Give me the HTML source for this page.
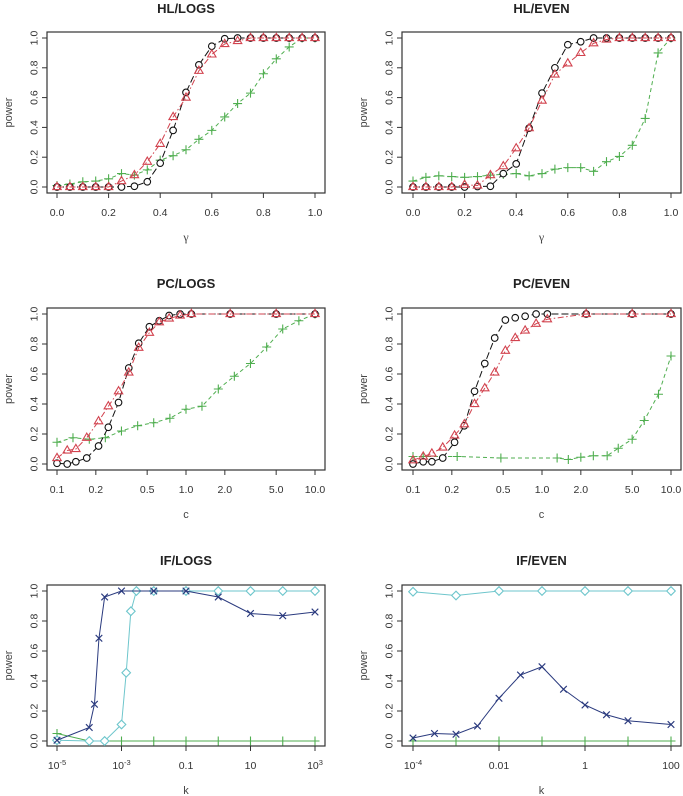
<!DOCTYPE html>
<html><head><meta charset="utf-8">
<style>
html,body{margin:0;padding:0;background:#fff;}
svg{display:block;font-family:"Liberation Sans",Arial,sans-serif;}
</style></head>
<body>
<svg id="fig" width="683" height="796" viewBox="0 0 683 796" xmlns="http://www.w3.org/2000/svg"></svg>
<script>
// ---------- data ----------
const hlX = [0,0.05,0.1,0.15,0.2,0.25,0.3,0.35,0.4,0.45,0.5,0.55,0.6,0.65,0.7,0.75,0.8,0.85,0.9,0.95,1];
const hlLogsBlack = [0,0,0,0,0,0,0.005,0.035,0.16,0.38,0.635,0.82,0.945,0.995,1,1,1,1,1,1,1];
const hlLogsRed   = [0,0,0,0,0,0.04,0.08,0.17,0.29,0.47,0.60,0.78,0.89,0.96,0.98,1,1,1,1,1,1];
const hlLogsGreen = [0.01,0.02,0.035,0.04,0.055,0.09,0.08,0.115,0.18,0.21,0.25,0.32,0.38,0.47,0.56,0.63,0.76,0.86,0.94,1,1];
const hlEvenBlack = [0,0,0,0,0,0.003,0.005,0.09,0.155,0.395,0.63,0.80,0.955,0.975,1,1,1,1,1,1,1];
const hlEvenRed   = [0,0,0,0,0.015,0.01,0.08,0.14,0.26,0.395,0.58,0.755,0.83,0.90,0.965,0.99,1,1,1,1,1];
const hlEvenGreen = [0.04,0.065,0.075,0.07,0.065,0.07,0.08,0.085,0.09,0.075,0.09,0.12,0.13,0.13,0.105,0.17,0.205,0.28,0.46,0.90,1];

const pcX = [0.1,0.12,0.14,0.17,0.21,0.25,0.30,0.36,0.43,0.52,0.62,0.74,0.90,1.10,2.2,5,10];
const pcLogsBlack = [0.005,0,0.015,0.04,0.12,0.245,0.41,0.64,0.805,0.915,0.955,0.99,1,1,1,1,1];
const pcLogsRed   = [0.04,0.09,0.10,0.175,0.285,0.385,0.485,0.61,0.775,0.875,0.945,0.97,0.99,1,1,1,1];
const pcLogsGreenX = [0.1,0.133,0.178,0.237,0.316,0.422,0.562,0.750,1,1.33,1.78,2.37,3.16,4.22,5.62,7.50,10];
const pcLogsGreen  = [0.145,0.175,0.165,0.175,0.22,0.255,0.275,0.305,0.365,0.385,0.50,0.585,0.67,0.78,0.90,0.955,1];
const pcEvenBlack = [0,0.015,0.015,0.04,0.145,0.255,0.485,0.67,0.84,0.96,0.975,0.985,1,1,1,1,1];
const pcEvenRed   = [0.025,0.05,0.07,0.11,0.19,0.265,0.40,0.505,0.61,0.755,0.84,0.89,0.935,0.965,1,1,1];
const pcEvenGreenX = [0.1,0.12,0.22,0.48,1.31,1.6,2.0,2.5,3.2,3.9,5.0,6.2,8.0,10];
const pcEvenGreen  = [0.05,0.05,0.05,0.04,0.04,0.03,0.045,0.055,0.055,0.105,0.165,0.29,0.465,0.72];

const ifLogsBlueX = [1e-5,1e-4,1.45e-4,2e-4,3e-4,1e-3,1e-2,0.1,1,10,100,1000];
const ifLogsBlue  = [0.005,0.09,0.245,0.685,0.96,1,1,1,0.96,0.85,0.835,0.86];
const ifLogsCyanX = [1e-5,1e-4,3e-4,1e-3,1.4e-3,1.95e-3,2.9e-3,1e-2,0.1,1,10,100,1000];
const ifLogsCyan  = [0.005,0,0,0.11,0.455,0.865,1,1,1,1,1,1,1];
const ifLogsGreenX = [1e-5,1e-4,1e-3,1e-2,0.1,1,10,100,1000];
const ifLogsGreen  = [0.05,0,0,0,0,0,0,0,0];

const ifEvenCyanX = [1e-4,1e-3,1e-2,0.1,1,10,100];
const ifEvenCyan  = [0.995,0.97,1,1,1,1,1];
const ifEvenBlueX = [1e-4,3.16e-4,1e-3,3.16e-3,1e-2,3.16e-2,0.1,0.316,1,3.16,10,100];
const ifEvenBlue  = [0.02,0.05,0.045,0.10,0.285,0.44,0.495,0.345,0.24,0.175,0.135,0.11];
const ifEvenGreenX = [1e-4,1e-3,1e-2,0.1,1,10,100];
const ifEvenGreen  = [0,0,0,0,0,0,0];

const yTicks = [0,0.2,0.4,0.6,0.8,1.0];
const yTickLabels = ["0.0","0.2","0.4","0.6","0.8","1.0"];
const hlTicks = [0,0.2,0.4,0.6,0.8,1.0];
const hlTickLabels = ["0.0","0.2","0.4","0.6","0.8","1.0"];
const pcTicks = [0.1,0.2,0.5,1,2,5,10];
const pcTickLabels = ["0.1","0.2","0.5","1.0","2.0","5.0","10.0"];
const ifLogsTicks = [1e-5,1e-3,0.1,10,1000];
const ifLogsTickLabels = ["10^-5","10^-3","0.1","10","10^3"];
const ifEvenTicks = [1e-4,0.01,1,100];
const ifEvenTickLabels = ["10^-4","0.01","1","100"];

// ---------- drawing ----------
const NS="http://www.w3.org/2000/svg";
const svg=document.getElementById('fig');
const COL={black:"#111",red:"#d2434f",green:"#4fae4f",blue:"#2a3a7e",cyan:"#6ec6cc"};
function mk(tag,attrs,parent){const e=document.createElementNS(NS,tag);for(const k in attrs)e.setAttribute(k,attrs[k]);(parent||svg).appendChild(e);return e;}

function panel(cfg){
  const g=mk('g',{});
  
  
  const log=cfg.log;
  const tx=v=>log?Math.log10(v):v;
  const xs=v=>cfg.px0+(tx(v)-tx(cfg.xmin))/(tx(cfg.xmax)-tx(cfg.xmin))*(cfg.px1-cfg.px0);
  const ys=v=>cfg.py0+(v)*(cfg.py1-cfg.py0);
  const box=mk('rect',{x:cfg.bx0,y:cfg.by0,width:cfg.bx1-cfg.bx0,height:cfg.by1-cfg.by0,fill:'none',stroke:'#333','stroke-width':1.2},g);
  
  
  const t=mk('text',{x:(cfg.bx0+cfg.bx1)/2,y:cfg.titleY,'text-anchor':'middle','font-size':13,'font-weight':'bold',fill:'#222'},g);
  t.textContent=cfg.title;
  
  
  yTicks.forEach((v,i)=>{
    const y=ys(v);
    mk('line',{x1:cfg.bx0,x2:cfg.bx0-5,y1:y,y2:y,stroke:'#333'},g);
    const lx=cfg.bx0-13;
    const tl=mk('text',{x:lx,y:y,'text-anchor':'middle','font-size':10.5,fill:'#333',transform:`rotate(-90 ${lx} ${y})`,dy:'0.35em'},g);
    tl.textContent=yTickLabels[i];
    
    
  });
  cfg.ticks.forEach((v,i)=>{
    const x=xs(v);
    mk('line',{x1:x,x2:x,y1:cfg.by1,y2:cfg.by1+5,stroke:'#333'},g);
    const lab=cfg.tickLabels[i];
    const tl=mk('text',{x:x,y:cfg.by1+23,'text-anchor':'middle','font-size':10.5,fill:'#333'},g);
    if(lab.indexOf('^')>=0){
      const p=lab.split('^');
      const a=mk('tspan',{},tl);a.textContent=p[0];
      const b=mk('tspan',{dy:-4,'font-size':7.5},tl);b.textContent=p[1];
    } else tl.textContent=lab;
    
    
  });
  const xl=mk('text',{x:(cfg.bx0+cfg.bx1)/2,y:cfg.by1+48,'text-anchor':'middle','font-size':cfg.xlabSerif?12:11,'font-family':cfg.xlabSerif?'"Liberation Serif",serif':'inherit',fill:'#444'},g);
  xl.textContent=cfg.xlab;
  
  
  const ylx=cfg.bx0-39, yly=(cfg.by0+cfg.by1)/2;
  const yl=mk('text',{x:ylx,y:yly,'text-anchor':'middle','font-size':11,fill:'#444',transform:`rotate(-90 ${ylx} ${yly})`,dy:'0.35em'},g);
  yl.textContent='power';
  
  
  cfg.series.forEach(s=>{
    const sg=mk('g',{},g);
    
    
    const pts=s.x.map((xv,i)=>[xs(xv),ys(s.y[i])]);
    mk('polyline',{points:pts.map(p=>p.join(',')).join(' '),fill:'none',stroke:s.col,'stroke-width':1,'stroke-dasharray':s.dash||'none'},sg);
    pts.forEach(p=>marker(sg,s.pch,p[0],p[1],s.col));
  });
}
function marker(g,pch,x,y,c){
  const w=1.1;
  if(pch==='o') mk('circle',{cx:x,cy:y,r:3.3,fill:'#fff',stroke:c,'stroke-width':w},g);
  else if(pch==='t') mk('polygon',{points:`${x},${y-4.6} ${x-4.2},${y+2.6} ${x+4.2},${y+2.6}`,fill:'none',stroke:c,'stroke-width':w},g);
  else if(pch==='+'){mk('path',{d:`M${x-4.5},${y}H${x+4.5}M${x},${y-4.5}V${y+4.5}`,stroke:c,'stroke-width':w},g);}
  else if(pch==='x'){mk('path',{d:`M${x-3.3},${y-3.3}L${x+3.3},${y+3.3}M${x-3.3},${y+3.3}L${x+3.3},${y-3.3}`,stroke:c,'stroke-width':w},g);}
  else if(pch==='d') mk('polygon',{points:`${x},${y-4.3} ${x+4.3},${y} ${x},${y+4.3} ${x-4.3},${y}`,fill:'#fff',stroke:c,'stroke-width':w},g);
}
const DB="7,3", DR="6,2.5,1.5,2.5", DG="4,3";
const L={bx0:47,bx1:325,px0:57,px1:315}, R={bx0:402,bx1:681,px0:413,px1:671};
const row1={by0:32,by1:193,py0:187,py1:38,titleY:13};
const row2={by0:308,by1:470,py0:464,py1:314,titleY:288};
const row3={by0:585,by1:746,py0:741,py1:591,titleY:565};

panel(Object.assign({},L,row1,{name:'panel-hl-logs',title:'HL/LOGS',xmin:0,xmax:1,log:false,ticks:hlTicks,tickLabels:hlTickLabels,xlab:'γ',xlabSerif:true,
  series:[{name:'series-green',x:hlX,y:hlLogsGreen,col:COL.green,pch:'+',dash:DG},
          {name:'series-black',x:hlX,y:hlLogsBlack,col:COL.black,pch:'o',dash:DB},
          {name:'series-red',x:hlX,y:hlLogsRed,col:COL.red,pch:'t',dash:DR}]}));
panel(Object.assign({},R,row1,{name:'panel-hl-even',title:'HL/EVEN',xmin:0,xmax:1,log:false,ticks:hlTicks,tickLabels:hlTickLabels,xlab:'γ',xlabSerif:true,
  series:[{name:'series-green',x:hlX,y:hlEvenGreen,col:COL.green,pch:'+',dash:DG},
          {name:'series-black',x:hlX,y:hlEvenBlack,col:COL.black,pch:'o',dash:DB},
          {name:'series-red',x:hlX,y:hlEvenRed,col:COL.red,pch:'t',dash:DR}]}));
panel(Object.assign({},L,row2,{name:'panel-pc-logs',title:'PC/LOGS',xmin:0.1,xmax:10,log:true,ticks:pcTicks,tickLabels:pcTickLabels,xlab:'c',
  series:[{name:'series-green',x:pcLogsGreenX,y:pcLogsGreen,col:COL.green,pch:'+',dash:DG},
          {name:'series-black',x:pcX,y:pcLogsBlack,col:COL.black,pch:'o',dash:DB},
          {name:'series-red',x:pcX,y:pcLogsRed,col:COL.red,pch:'t',dash:DR}]}));
panel(Object.assign({},R,row2,{name:'panel-pc-even',title:'PC/EVEN',xmin:0.1,xmax:10,log:true,ticks:pcTicks,tickLabels:pcTickLabels,xlab:'c',
  series:[{name:'series-green',x:pcEvenGreenX,y:pcEvenGreen,col:COL.green,pch:'+',dash:DG},
          {name:'series-black',x:pcX,y:pcEvenBlack,col:COL.black,pch:'o',dash:DB},
          {name:'series-red',x:pcX,y:pcEvenRed,col:COL.red,pch:'t',dash:DR}]}));
panel(Object.assign({},L,row3,{name:'panel-if-logs',title:'IF/LOGS',xmin:1e-5,xmax:1000,log:true,ticks:ifLogsTicks,tickLabels:ifLogsTickLabels,xlab:'k',
  series:[{name:'series-green',x:ifLogsGreenX,y:ifLogsGreen,col:COL.green,pch:'+'},
          {name:'series-cyan',x:ifLogsCyanX,y:ifLogsCyan,col:COL.cyan,pch:'d'},
          {name:'series-blue',x:ifLogsBlueX,y:ifLogsBlue,col:COL.blue,pch:'x'}]}));
panel(Object.assign({},R,row3,{name:'panel-if-even',title:'IF/EVEN',xmin:1e-4,xmax:100,log:true,ticks:ifEvenTicks,tickLabels:ifEvenTickLabels,xlab:'k',
  series:[{name:'series-green',x:ifEvenGreenX,y:ifEvenGreen,col:COL.green,pch:'+'},
          {name:'series-cyan',x:ifEvenCyanX,y:ifEvenCyan,col:COL.cyan,pch:'d'},
          {name:'series-blue',x:ifEvenBlueX,y:ifEvenBlue,col:COL.blue,pch:'x'}]}));
</script>
</body></html>
